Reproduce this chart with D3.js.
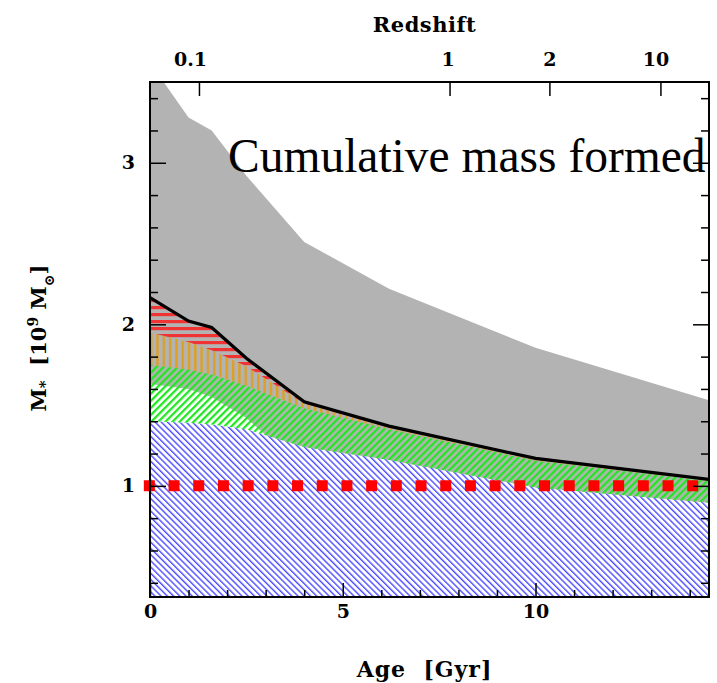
<!DOCTYPE html>
<html>
<head>
<meta charset="utf-8">
<script src="https://cdn.jsdelivr.net/npm/d3@7"></script>
<style>
  body { margin: 0; background: #fff; }
  svg { display: block; }
  .tick text { font-family: "DejaVu Serif", serif; font-weight: bold; font-size: 19px; fill: #000; }
  .tick line { stroke: #000; stroke-width: 1.5; }
</style>
</head>
<body>
<svg id="chart"></svg>
<script>

const ages = [0, 1.0, 1.6, 2.5, 4.0, 6.2, 10.0, 14.5];

// mass in each component (10^9 Msun), stacked bottom to top
const blueMass   = [1.40, 1.39, 1.38, 1.35, 1.24, 1.16, 0.99, 0.895];
const greenMass  = [0.35, 0.33, 0.31, 0.27, 0.24, 0.19, 0.165, 0.135];
const orangeMass = [0.20, 0.17, 0.15, 0.12, 0.03, 0.01, 0.007, 0.005];
const redMass    = [0.215, 0.13, 0.14, 0.05, 0.01, 0.01, 0.008, 0.005];

// grey uncertainty band
const greyUpper = [3.62, 3.28, 3.20, 2.92, 2.51, 2.22, 1.855, 1.53];
const greyLower = [1.63, 1.60, 1.55, 1.42, 1.10, 1.00, 0.80, 0.70];

// reference level (dotted red)
const refMass = 1.0;
const refAges = [-0.16, 14.22];

// ticks
const xMajor = [0, 5, 10];
const xMinor = [1, 2, 3, 4, 6, 7, 8, 9, 11, 12, 13, 14];
const yMajor = [1, 2, 3];
const yMinor = [0.4, 0.6, 0.8, 1.2, 1.4, 1.6, 1.8, 2.2, 2.4, 2.6, 2.8, 3.2, 3.4];
const zLabels = ["0.1", "1", "2", "10"];
const zAges = [1.27, 7.77, 10.36, 13.24];

const svg_dims = {width: 717, height: 683};
const margin = {top: 82, right: 8, bottom: 86, left: 150};
const width = svg_dims.width - margin.left - margin.right;
const height = svg_dims.height - margin.top - margin.bottom;

const svg = d3.select('#chart')
    .attr("width", svg_dims.width)
    .attr("height", svg_dims.height);

const defs = svg.append("defs");

defs.append("clipPath").attr("id", "clip")
  .append("rect").attr("width", width).attr("height", height);

function hatch(id, color, size, lw, angle, bg) {
  const p = defs.append("pattern")
      .attr("id", id)
      .attr("patternUnits", "userSpaceOnUse")
      .attr("width", size)
      .attr("height", size)
      .attr("patternTransform", "rotate(" + angle + ")");
  if (bg) p.append("rect").attr("width", size).attr("height", size).attr("fill", bg);
  p.append("rect").attr("width", lw).attr("height", size).attr("fill", color);
}
hatch("hBlue", "#4a4aff", 4.4, 1.4, -45, "#ffffff");
hatch("hGreen", "#22e622", 5.0, 2.3, 45, null);
hatch("hOrange", "#dca024", 6.3, 2.4, 0, null);
hatch("hRed", "#f03434", 7.0, 3.2, 90, null);

const g = svg.append("g")
    .attr("transform", "translate(" + margin.left + "," + margin.top + ")");

const x_scale = d3.scaleLinear().domain([0, 14.5]).range([0, width]);
const y_scale = d3.scaleLinear().domain([0.312, 3.5]).range([height, 0]);

const plot = g.append("g").attr("clip-path", "url(#clip)");

// grey band
const greyData = ages.map((a, i) => ({age: a, lo: greyLower[i], hi: greyUpper[i]}));
plot.append("path")
  .datum(greyData)
  .attr("fill", "#b3b3b3")
  .attr("d", d3.area()
    .x(d => x_scale(d.age))
    .y0(d => y_scale(d.lo))
    .y1(d => y_scale(d.hi)));

// stacked components
const table = ages.map((a, i) => ({
  age: a, blue: blueMass[i], green: greenMass[i], orange: orangeMass[i], red: redMass[i]
}));
const keys = ["blue", "green", "orange", "red"];
const fills = {blue: "url(#hBlue)", green: "url(#hGreen)", orange: "url(#hOrange)", red: "url(#hRed)"};
const series = d3.stack().keys(keys)(table);

const area = d3.area()
  .x(d => x_scale(d.data.age))
  .y0(d => y_scale(d[0]))
  .y1(d => y_scale(d[1]));

plot.selectAll(".layer")
  .data(series)
  .join("path")
  .attr("class", "layer")
  .attr("fill", d => fills[d.key])
  .attr("d", area);

// total line
plot.append("path")
  .datum(series[series.length - 1])
  .attr("fill", "none")
  .attr("stroke", "#000")
  .attr("stroke-width", 3.2)
  .attr("d", d3.line()
    .x(d => x_scale(d.data.age))
    .y(d => y_scale(d[1])));

// reference dotted line
g.append("path")
  .datum(refAges)
  .attr("fill", "none")
  .attr("stroke", "#ff0000")
  .attr("stroke-width", 11)
  .attr("stroke-dasharray", "11,13.7")
  .attr("d", d3.line().x(d => x_scale(d)).y(() => y_scale(refMass)));

// axes (ticks point inward)
function axis(gen, tr) {
  const a = g.append("g").attr("transform", tr).call(gen);
  a.select(".domain").remove();
  return a;
}
axis(d3.axisLeft(y_scale).tickValues(yMinor).tickSize(-8).tickFormat(""), null);
axis(d3.axisLeft(y_scale).tickValues(yMajor).tickSize(-16).tickPadding(15).tickFormat(d3.format("d")), null);
axis(d3.axisRight(y_scale).tickValues(yMinor).tickSize(-8).tickFormat(""), "translate(" + width + ",0)");
axis(d3.axisRight(y_scale).tickValues(yMajor).tickSize(-16).tickFormat(""), "translate(" + width + ",0)");
axis(d3.axisBottom(x_scale).tickValues(xMinor).tickSize(-7).tickFormat(""), "translate(0," + height + ")");
axis(d3.axisBottom(x_scale).tickValues(xMajor).tickSize(-14).tickPadding(8).tickFormat(d3.format("d")), "translate(0," + height + ")");

// redshift labels sit a little left of their ticks in the original
const zAxis = axis(d3.axisTop(x_scale).tickValues(zAges).tickSize(-14).tickPadding(16)
    .tickFormat((d, i) => zLabels[i]), null);
zAxis.selectAll("text").attr("dx", (d, i) => [-9, -2, 0, -5][i]);

// frame
g.append("rect")
  .attr("width", width).attr("height", height)
  .attr("fill", "none").attr("stroke", "#000").attr("stroke-width", 2);

// titles
const serif = "'DejaVu Serif', serif";
svg.append("text")
  .attr("x", margin.left + width / 2 - 5).attr("y", 32)
  .attr("text-anchor", "middle")
  .style("font-family", serif).style("font-size", "21px").style("font-weight", "bold")
  .style("letter-spacing", "0.5px")
  .text("Redshift");

svg.append("text")
  .attr("x", margin.left + width / 2 - 5).attr("y", 677)
  .attr("text-anchor", "middle")
  .style("font-family", serif).style("font-size", "22px").style("font-weight", "bold")
  .style("letter-spacing", "1px")
  .attr("xml:space", "preserve")
  .text("Age  [Gyr]");

const ylab = svg.append("text")
  .attr("transform", "translate(46,338) rotate(-90)")
  .attr("text-anchor", "middle")
  .attr("xml:space", "preserve")
  .style("font-family", serif).style("font-size", "21px").style("font-weight", "bold");
ylab.append("tspan").text("M");
ylab.append("tspan").attr("baseline-shift", "-25%").style("font-size", "15px").text("*");
ylab.append("tspan").text("  [10");
ylab.append("tspan").attr("baseline-shift", "super").style("font-size", "14px").text("9");
ylab.append("tspan").text(" M");
ylab.append("tspan").attr("baseline-shift", "sub").style("font-size", "14px").text("\u2299");
ylab.append("tspan").text("]");

svg.append("text")
  .attr("x", 228).attr("y", 172)
  .style("font-family", "'Liberation Serif', 'Times New Roman', serif")
  .style("font-size", "47.5px")
  .text("Cumulative mass formed");

</script>
</body>
</html>
